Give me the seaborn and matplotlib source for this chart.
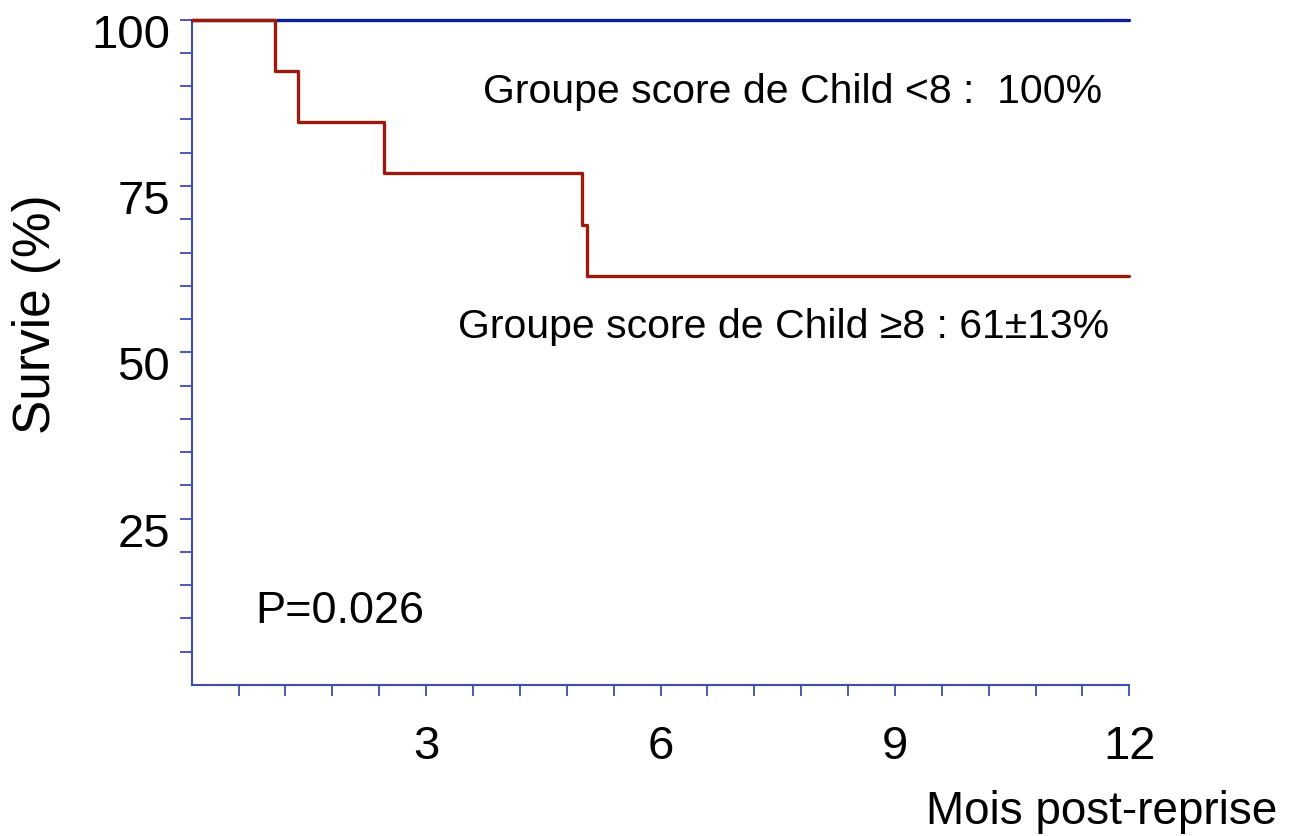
import numpy as np
import pandas as pd
import matplotlib
matplotlib.use("Agg")
import matplotlib.pyplot as plt
import matplotlib.transforms as mtransforms
import seaborn as sns

# ---- data ----
blue_times = [0.0, 12.0]
blue_surv = [100.0, 100.0]
red_times = [0.0, 1.07, 1.36, 2.46, 4.99, 5.06, 12.0]
red_surv = [100.0, 92.3, 84.6, 76.9, 69.2, 61.5, 61.5]
group_names = ["Child <8", "Child >=8"]
x_major = [3, 6, 9, 12]
y_major = [25, 50, 75, 100]
label_low = "Groupe score de Child <8 :  100%"
label_high = "Groupe score de Child \u22658 : 61\u00b113%"
p_text = "P=0.026"

df = pd.concat([
    pd.DataFrame({"t": blue_times, "s": blue_surv, "g": group_names[0]}),
    pd.DataFrame({"t": red_times, "s": red_surv, "g": group_names[1]}),
], ignore_index=True)

sns.set_theme(style="white")
plt.rcParams["font.family"] = ["Liberation Sans", "DejaVu Sans"]

W, H = 1292, 837
fig = plt.figure(figsize=(W / 100, H / 100), dpi=100)
x0, x1 = 191.7, 1129.3
ytop, ybot = 20.7, 686.0
ax = fig.add_axes([x0 / W, 1 - ybot / H, (x1 - x0) / W, (ybot - ytop) / H])

pal = {group_names[0]: "#0d1e97", group_names[1]: "#9a1a0d"}
sns.lineplot(data=df, x="t", y="s", hue="g", palette=pal, drawstyle="steps-post",
             estimator=None, sort=False, legend=False, linewidth=2.4, ax=ax)
for i, ln in enumerate(ax.get_lines()):
    ln.set_clip_on(False)
    ln.set_zorder(3 + i)

ax.set_xlim(0, 12)
ax.set_ylim(0, 100)
spine_col = "#3b4cb3"
for s in ["top", "right"]:
    ax.spines[s].set_visible(False)
for s in ["left", "bottom"]:
    ax.spines[s].set_color(spine_col)
    ax.spines[s].set_linewidth(1.5)

ax.set_xticks(x_major)
ax.set_xticklabels([str(v) for v in x_major])
ax.set_xticks(np.arange(0.6, 12.0, 0.6)[[i for i in range(19) if (i + 1) % 5 != 0]], minor=True)
ax.set_yticks(y_major)
ax.set_yticklabels([str(v) for v in y_major])
ax.set_yticks([v for v in range(5, 100, 5) if v % 25 != 0], minor=True)

ax.tick_params(axis="x", which="both", direction="out", length=8, width=1.3,
               color=spine_col, bottom=True, labelsize=34, pad=20)
ax.tick_params(axis="y", which="both", direction="out", length=8.6, width=1.3,
               color=spine_col, left=True, labelsize=34, pad=7)
shift = mtransforms.ScaledTranslation(0, -10 / 100, fig.dpi_scale_trans)
for lab in ax.get_yticklabels():
    lab.set_transform(lab.get_transform() + shift)
for lab in ax.get_xticklabels() + ax.get_yticklabels():
    lab.set_color("black")

ax.set_xlabel("")
ax.set_ylabel("")
fig.text(37 / W, 1 - 314 / H, "Survie (%)", rotation=90, fontsize=37,
         ha="center", va="center", color="black")
fig.text(1277 / W, 1 - 824 / H, "Mois post-reprise", fontsize=33,
         ha="right", va="baseline", color="black")

ax.text(3.73, 87.6, label_low, fontsize=29.5, ha="left", va="baseline", color="black")
ax.text(3.41, 52.35, label_high, fontsize=29.5, ha="left", va="baseline", color="black")
ax.text(0.81, 9.4, p_text, fontsize=32.5, ha="left", va="baseline", color="black")

fig.savefig("out.png", dpi=100, facecolor="white")
